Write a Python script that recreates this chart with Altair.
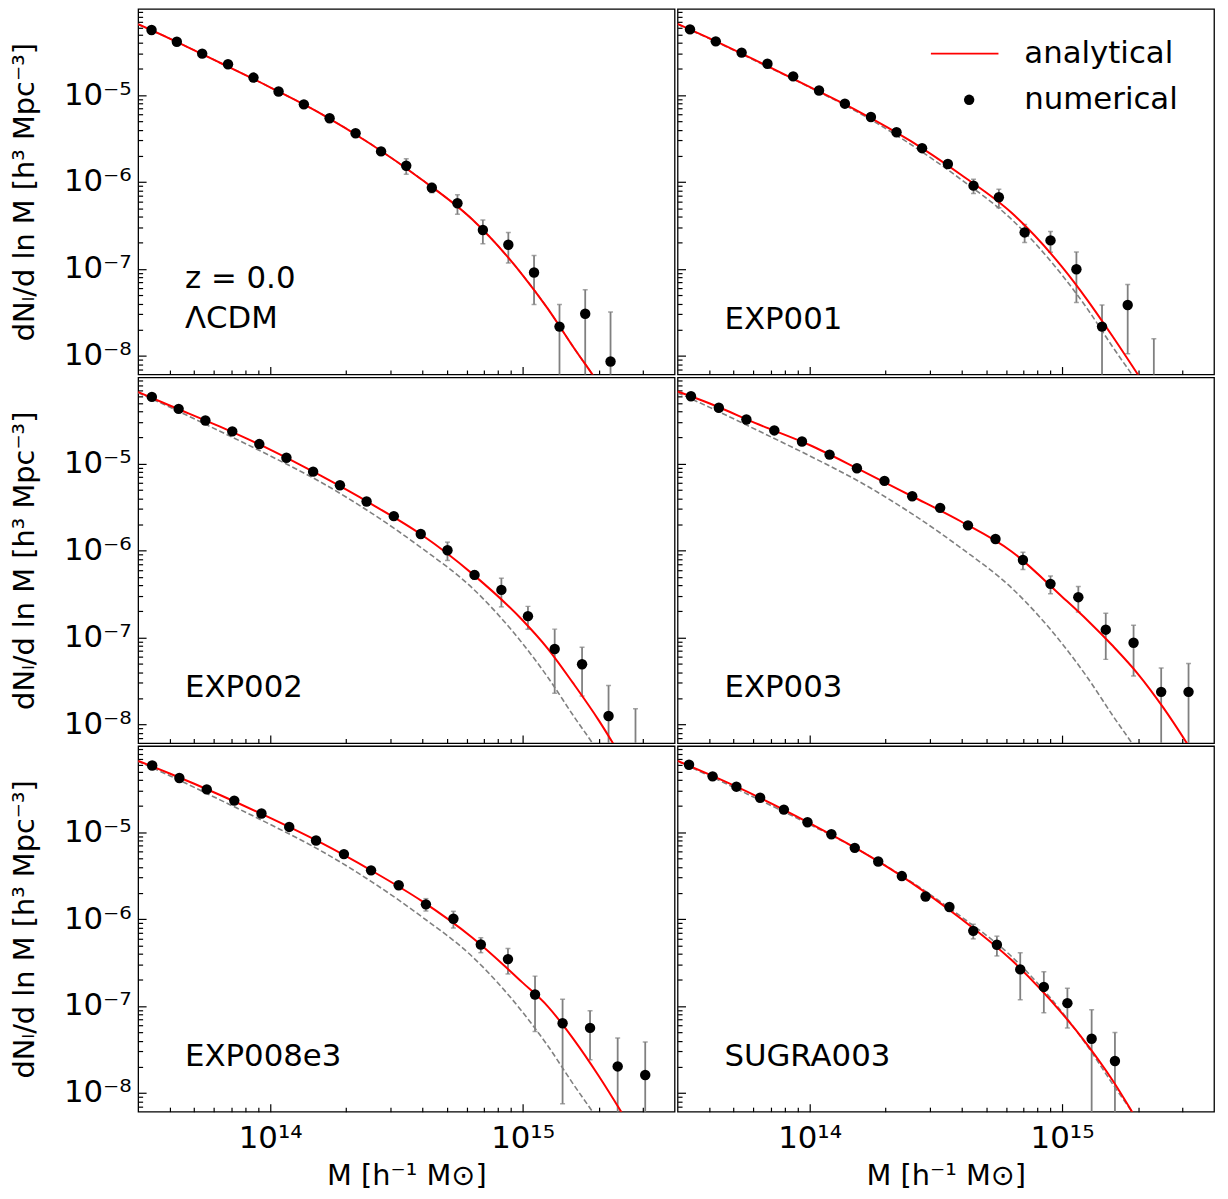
import altair as alt
import pandas as pd

# ---------------- axis ranges and tick labels ----------------
mass_domain = [3.0e13, 4.0e15]
dn_domain = [6.1e-9, 9.8e-5]
x_major_exps = [14, 15]
x_major_labels = ["10¹⁴", "10¹⁵"]
y_major_exps = [-8, -7, -6, -5]
y_major_labels = ["10⁻⁸", "10⁻⁷", "10⁻⁶", "10⁻⁵"]
x_title = "M [h⁻¹ M⊙]"
y_title = "dNₗ/d ln M [h³ Mpc⁻³]"

# ---------------- analytical curves ----------------
curve_mass = [3.0e13, 4.0e13, 6.3e13, 1.0e14, 1.58e14, 2.51e14, 3.98e14, 6.31e14,
              1.0e15, 1.26e15, 1.58e15, 2.0e15, 2.51e15, 3.16e15, 3.98e15]
lcdm_curve = [6.53e-5, 4.47e-5, 2.37e-5, 1.23e-5, 6.17e-6, 2.72e-6, 1.07e-6, 3.72e-7,
              8.51e-8, 3.47e-8, 1.29e-8, 4.79e-9, 1.66e-9]
exp001_curve = [6.61e-5, 4.53e-5, 2.41e-5, 1.245e-5, 6.38e-6, 2.97e-6, 1.21e-6, 4.42e-7,
                1.054e-7, 4.38e-8, 1.70e-8, 6.05e-9, 2.19e-9]
exp002_curve = [6.68e-5, 4.67e-5, 2.68e-5, 1.45e-5, 7.31e-6, 3.45e-6, 1.52e-6, 5.43e-7,
                1.58e-7, 7.41e-8, 3.02e-8, 1.12e-8, 3.80e-9, 1.17e-9]
exp003_curve = [6.76e-5, 4.95e-5, 2.82e-5, 1.64e-5, 8.53e-6, 4.30e-6, 2.16e-6, 9.77e-7,
                2.95e-7, 1.58e-7, 8.13e-8, 3.80e-8, 1.58e-8, 5.75e-9, 1.91e-9]
exp008e3_curve = [6.61e-5, 4.74e-5, 2.70e-5, 1.46e-5, 7.62e-6, 3.64e-6, 1.62e-6, 6.15e-7,
                  1.86e-7, 9.86e-8, 4.28e-8, 1.58e-8, 5.50e-9, 1.78e-9]
sugra003_curve = [6.61e-5, 4.62e-5, 2.52e-5, 1.27e-5, 6.17e-6, 2.67e-6, 1.01e-6, 3.38e-7,
                  8.26e-8, 3.58e-8, 1.42e-8, 4.68e-9, 1.58e-9]

# ---------------- numerical points ----------------
lcdm_mass = [3.39e13, 4.27e13, 5.38e13, 6.81e13, 8.59e13, 1.08e14, 1.36e14, 1.72e14, 2.18e14, 2.75e14,
             3.46e14, 4.37e14, 5.52e14, 6.96e14, 8.78e14, 1.11e15, 1.40e15, 1.77e15, 2.23e15]
lcdm_dn = [5.60e-5, 4.11e-5, 3.00e-5, 2.26e-5, 1.59e-5, 1.10e-5, 7.82e-6, 5.41e-6, 3.64e-6, 2.25e-6,
           1.54e-6, 8.6e-7, 5.7e-7, 2.8e-7, 1.9e-7, 9.1e-8, 2.17e-8, 3.05e-8, 8.6e-9]
lcdm_err = [1.2e-6, 1.0e-6, 8e-7, 7e-7, 6e-7, 5e-7, 4e-7, 3e-7, 2.5e-7, 2e-7,
            3.1e-7, 1.1e-7, 1.45e-7, 8.5e-8, 7.3e-8, 5.2e-8, 1.73e-8, 2.7e-8, 2.33e-8]

exp001_mass = [3.36e13, 4.25e13, 5.38e13, 6.81e13, 8.61e13, 1.09e14, 1.38e14, 1.75e14, 2.21e14, 2.79e14,
               3.53e14, 4.46e14, 5.62e14, 7.11e14, 9.00e14, 1.14e15, 1.44e15, 1.82e15, 2.31e15]
exp001_dn = [5.70e-5, 4.15e-5, 3.08e-5, 2.29e-5, 1.64e-5, 1.13e-5, 7.96e-6, 5.60e-6, 3.74e-6, 2.45e-6,
             1.61e-6, 9.08e-7, 6.67e-7, 2.63e-7, 2.13e-7, 9.9e-8, 2.17e-8, 3.84e-8, 5.0e-9]
exp001_err = [1.2e-6, 1.0e-6, 8e-7, 7e-7, 6e-7, 5e-7, 4e-7, 3e-7, 2.5e-7, 2e-7,
              1.2e-7, 1.7e-7, 1.6e-7, 6.1e-8, 5.7e-8, 5.8e-8, 1.67e-8, 2.78e-8, 1.07e-8]

exp002_mass = [3.40e13, 4.34e13, 5.54e13, 7.08e13, 9.06e13, 1.16e14, 1.48e14, 1.89e14, 2.41e14, 3.09e14,
               3.95e14, 5.04e14, 6.45e14, 8.24e14, 1.05e15, 1.34e15, 1.72e15, 2.19e15, 2.80e15]
exp002_dn = [5.86e-5, 4.27e-5, 3.14e-5, 2.35e-5, 1.68e-5, 1.17e-5, 8.09e-6, 5.65e-6, 3.67e-6, 2.49e-6,
             1.55e-6, 1.01e-6, 5.25e-7, 3.53e-7, 1.76e-7, 7.38e-8, 4.92e-8, 1.25e-8, 4.0e-9]
exp002_err = [1.2e-6, 1.0e-6, 8e-7, 7e-7, 6e-7, 5e-7, 4e-7, 3e-7, 2.5e-7, 2e-7,
              1.0e-7, 2.4e-7, 5.8e-8, 1.28e-7, 5.2e-8, 5.1e-8, 2.8e-8, 1.56e-8, 1.11e-8]

exp003_mass = [3.39e13, 4.37e13, 5.62e13, 7.25e13, 9.33e13, 1.20e14, 1.54e14, 1.98e14, 2.55e14, 3.29e14,
               4.24e14, 5.45e14, 7.00e14, 9.00e14, 1.16e15, 1.49e15, 1.92e15, 2.47e15, 3.17e15]
exp003_dn = [5.97e-5, 4.39e-5, 3.22e-5, 2.41e-5, 1.80e-5, 1.27e-5, 8.84e-6, 6.33e-6, 4.22e-6, 3.10e-6,
             1.95e-6, 1.36e-6, 7.80e-7, 4.14e-7, 2.91e-7, 1.23e-7, 8.71e-8, 2.37e-8, 2.37e-8]
exp003_err = [1.2e-6, 1.0e-6, 8e-7, 7e-7, 6e-7, 5e-7, 4e-7, 3e-7, 2.5e-7, 2e-7,
              1.2e-7, 1.0e-7, 1.75e-7, 9.6e-8, 9.4e-8, 6.7e-8, 5.1e-8, 2.1e-8, 2.64e-8]

exp008e3_mass = [3.41e13, 4.37e13, 5.61e13, 7.21e13, 9.24e13, 1.19e14, 1.52e14, 1.96e14, 2.51e14, 3.23e14,
                 4.14e14, 5.32e14, 6.83e14, 8.75e14, 1.12e15, 1.44e15, 1.85e15, 2.38e15, 3.06e15]
exp008e3_dn = [5.86e-5, 4.20e-5, 3.11e-5, 2.31e-5, 1.64e-5, 1.15e-5, 8.02e-6, 5.60e-6, 3.64e-6, 2.45e-6,
               1.48e-6, 1.01e-6, 5.11e-7, 3.47e-7, 1.36e-7, 6.35e-8, 5.61e-8, 2.02e-8, 1.61e-8]
exp008e3_err = [1.2e-6, 1.0e-6, 8e-7, 7e-7, 6e-7, 5e-7, 4e-7, 3e-7, 2.5e-7, 2e-7,
                2.4e-7, 2.2e-7, 1.0e-7, 1.13e-7, 8.5e-8, 5.6e-8, 3.2e-8, 2.26e-8, 2.24e-8]

sugra003_mass = [3.33e13, 4.13e13, 5.13e13, 6.37e13, 7.91e13, 9.81e13, 1.22e14, 1.51e14, 1.87e14, 2.32e14,
                 2.88e14, 3.58e14, 4.45e14, 5.52e14, 6.83e14, 8.47e14, 1.05e15, 1.31e15, 1.62e15]
sugra003_dn = [5.97e-5, 4.39e-5, 3.34e-5, 2.49e-5, 1.82e-5, 1.30e-5, 9.48e-6, 6.61e-6, 4.61e-6, 3.13e-6,
               1.82e-6, 1.38e-6, 7.33e-7, 5.07e-7, 2.64e-7, 1.66e-7, 1.08e-7, 4.20e-8, 2.33e-8]
sugra003_err = [1.2e-6, 1.0e-6, 8e-7, 7e-7, 6e-7, 5e-7, 4e-7, 3e-7, 2.5e-7, 2e-7,
                1.0e-7, 1.0e-7, 1.4e-7, 1.3e-7, 1.46e-7, 8.2e-8, 5.2e-8, 4.84e-8, 2.64e-8]

# ---------------- panel annotations ----------------
panel_keys = ["LCDM", "EXP001", "EXP002", "EXP003", "EXP008e3", "SUGRA003"]
panel_text = {
    "LCDM": ["z = 0.0", "ΛCDM"],
    "EXP001": ["EXP001"], "EXP002": ["EXP002"], "EXP003": ["EXP003"],
    "EXP008e3": ["EXP008e3"], "SUGRA003": ["SUGRA003"],
}
text_mass = 4.6e13
text_dn_two = [5.96e-8, 2.07e-8]
text_dn_one = [2.05e-8]
legend_labels = ["analytical", "numerical"]

panel_data = {
    "LCDM": (lcdm_mass, lcdm_dn, lcdm_err, lcdm_curve),
    "EXP001": (exp001_mass, exp001_dn, exp001_err, exp001_curve),
    "EXP002": (exp002_mass, exp002_dn, exp002_err, exp002_curve),
    "EXP003": (exp003_mass, exp003_dn, exp003_err, exp003_curve),
    "EXP008e3": (exp008e3_mass, exp008e3_dn, exp008e3_err, exp008e3_curve),
    "SUGRA003": (sugra003_mass, sugra003_dn, sugra003_err, sugra003_curve),
}

# tick positions (1..9 x 10^n inside the domain)
x_tick_values = [k * 10.0 ** e for e in range(13, 16) for k in range(1, 10)
                 if mass_domain[0] * 1.01 < k * 10.0 ** e < mass_domain[1] * 0.99]
y_tick_values = [k * 10.0 ** e for e in range(-9, -3) for k in range(1, 10)
                 if dn_domain[0] * 1.01 < k * 10.0 ** e < dn_domain[1] * 0.99]

LOG10 = "(log(datum.value)/LN10)"
minor_test = f"abs({LOG10} - round({LOG10})) > 0.001"


def label_expr(exps, labels):
    return (f"abs({LOG10} - round({LOG10})) < 0.001 && indexof({exps}, round({LOG10})) >= 0 ? "
            f"{labels}[indexof({exps}, round({LOG10}))] : ''")


TICK = 8
MINOR = 4.5
tick_dash = {"condition": {"test": minor_test, "value": [MINOR, TICK - MINOR]}, "value": [TICK, 0]}
tick_dash_off = {"condition": {"test": minor_test, "value": MINOR}, "value": 0}
label_size = {"condition": {"test": minor_test, "value": 0}, "value": 31}


def x_axis(show):
    kw = dict(values=x_tick_values, offset=-TICK, tickSize=TICK, domain=False, grid=False,
              tickColor="black", tickWidth=1.2, tickDash=tick_dash, tickDashOffset=tick_dash_off,
              labels=show, labelOverlap=False, labelFlush=False, minExtent=0)
    if show:
        kw.update(labelExpr=label_expr(x_major_exps, x_major_labels), labelFontSize=label_size,
                  labelPadding=12, title=x_title, titleFontSize=29, titlePadding=8)
    else:
        kw.update(title=None)
    return alt.Axis(**kw)


def y_axis(show):
    kw = dict(values=y_tick_values, offset=-TICK, tickSize=TICK, domain=False, grid=False,
              tickColor="black", tickWidth=1.2, tickDash=tick_dash, tickDashOffset=tick_dash_off,
              labels=show, labelOverlap=False, labelFlush=False, minExtent=0)
    if show:
        kw.update(labelExpr=label_expr(y_major_exps, y_major_labels), labelFontSize=label_size,
                  labelPadding=7, title=y_title, titleFontSize=29, titlePadding=24)
    else:
        kw.update(title=None)
    return alt.Axis(**kw)


def make_panel(key, row, col):
    show_x = row == 2
    show_y = col == 0
    with_legend = (row == 0 and col == 1)
    m, dn, err, curve = panel_data[key]
    pts = pd.DataFrame({"M": m, "dn": dn, "err": err})
    pts["hi"] = pts["dn"] + pts["err"]
    pts["lo"] = (pts["dn"] - pts["err"]).clip(lower=1e-12)
    pts["series"] = legend_labels[1]
    red = pd.DataFrame({"M": curve_mass[:len(curve)], "dn": curve, "series": legend_labels[0]})
    grey = pd.DataFrame({"M": curve_mass[:len(lcdm_curve)], "dn": lcdm_curve})
    lines = panel_text[key]
    tdf = pd.DataFrame({"M": [text_mass] * len(lines),
                        "dn": text_dn_two if len(lines) == 2 else text_dn_one,
                        "label": lines})

    xs = alt.Scale(type="log", domain=mass_domain, nice=False)
    ys = alt.Scale(type="log", domain=dn_domain, nice=False)
    xa = x_axis(show_x)
    ya = y_axis(show_y)

    def X(f):
        return alt.X(f"{f}:Q", scale=xs, axis=xa)

    def Y(f):
        return alt.Y(f"{f}:Q", scale=ys, axis=ya)

    grey_l = alt.Chart(grey).mark_line(clip=True, color="#808080", strokeDash=[5.5, 2.7],
                                       strokeWidth=1.6, interpolate="monotone").encode(x=X("M"), y=Y("dn"))
    bars = alt.Chart(pts).mark_rule(clip=True, color="#808080", strokeWidth=1.8).encode(
        x=X("M"), y=Y("lo"), y2="hi:Q")
    cap_hi = alt.Chart(pts).mark_tick(clip=True, color="#808080", orient="horizontal",
                                      size=5, thickness=1.5).encode(x=X("M"), y=Y("hi"))
    cap_lo = alt.Chart(pts).mark_tick(clip=True, color="#808080", orient="horizontal",
                                      size=5, thickness=1.5).encode(x=X("M"), y=Y("lo"))
    if with_legend:
        red_l = alt.Chart(red).mark_line(clip=True, strokeWidth=2, interpolate="monotone").encode(
            x=X("M"), y=Y("dn"),
            stroke=alt.Stroke("series:N", scale=alt.Scale(domain=[legend_labels[0]], range=["#ff0000"]),
                              legend=alt.Legend(orient="none", legendX=254, legendY=10, title=None,
                                                symbolType="stroke", symbolSize=4624,
                                                symbolStrokeWidth=2, labelFontSize=31,
                                                labelOffset=25, padding=0, labelColor="black")))
        dots = alt.Chart(pts).mark_circle(clip=True, size=110, opacity=1).encode(
            x=X("M"), y=Y("dn"),
            fill=alt.Fill("series:N", scale=alt.Scale(domain=[legend_labels[1]], range=["black"]),
                          legend=alt.Legend(orient="none", legendX=278, legendY=76, title=None,
                                            symbolType="circle", symbolSize=110,
                                            symbolStrokeWidth=0, labelFontSize=31,
                                            labelOffset=40, padding=0, labelColor="black")))
    else:
        red_l = alt.Chart(red).mark_line(clip=True, color="#ff0000", strokeWidth=2,
                                         interpolate="monotone").encode(x=X("M"), y=Y("dn"))
        dots = alt.Chart(pts).mark_circle(clip=True, size=110, color="black", opacity=1).encode(
            x=X("M"), y=Y("dn"))
    text = alt.Chart(tdf).mark_text(align="left", baseline="alphabetic", fontSize=31,
                                    color="black").encode(x=X("M"), y=Y("dn"), text="label:N")
    return alt.layer(grey_l, bars, cap_hi, cap_lo, red_l, dots, text).properties(width=540, height=368)


rows = []
for r in range(3):
    rows.append(alt.hconcat(make_panel(panel_keys[2 * r], r, 0),
                            make_panel(panel_keys[2 * r + 1], r, 1), spacing=0)
                .resolve_scale(stroke="independent", fill="independent"))

chart = (alt.vconcat(*rows, spacing=0)
         .resolve_scale(stroke="independent", fill="independent")
         .configure(font="DejaVu Sans", padding={"left": 2, "top": -4, "right": 5, "bottom": 2})
         .configure_view(stroke="black", strokeWidth=1.3)
         .configure_axis(labelColor="black", titleColor="black", titleFontWeight="normal",
                         labelFont="DejaVu Sans", titleFont="DejaVu Sans")
         .configure_legend(labelFont="DejaVu Sans"))

chart.save("out.html", embed_options={"renderer": "svg", "actions": False})
